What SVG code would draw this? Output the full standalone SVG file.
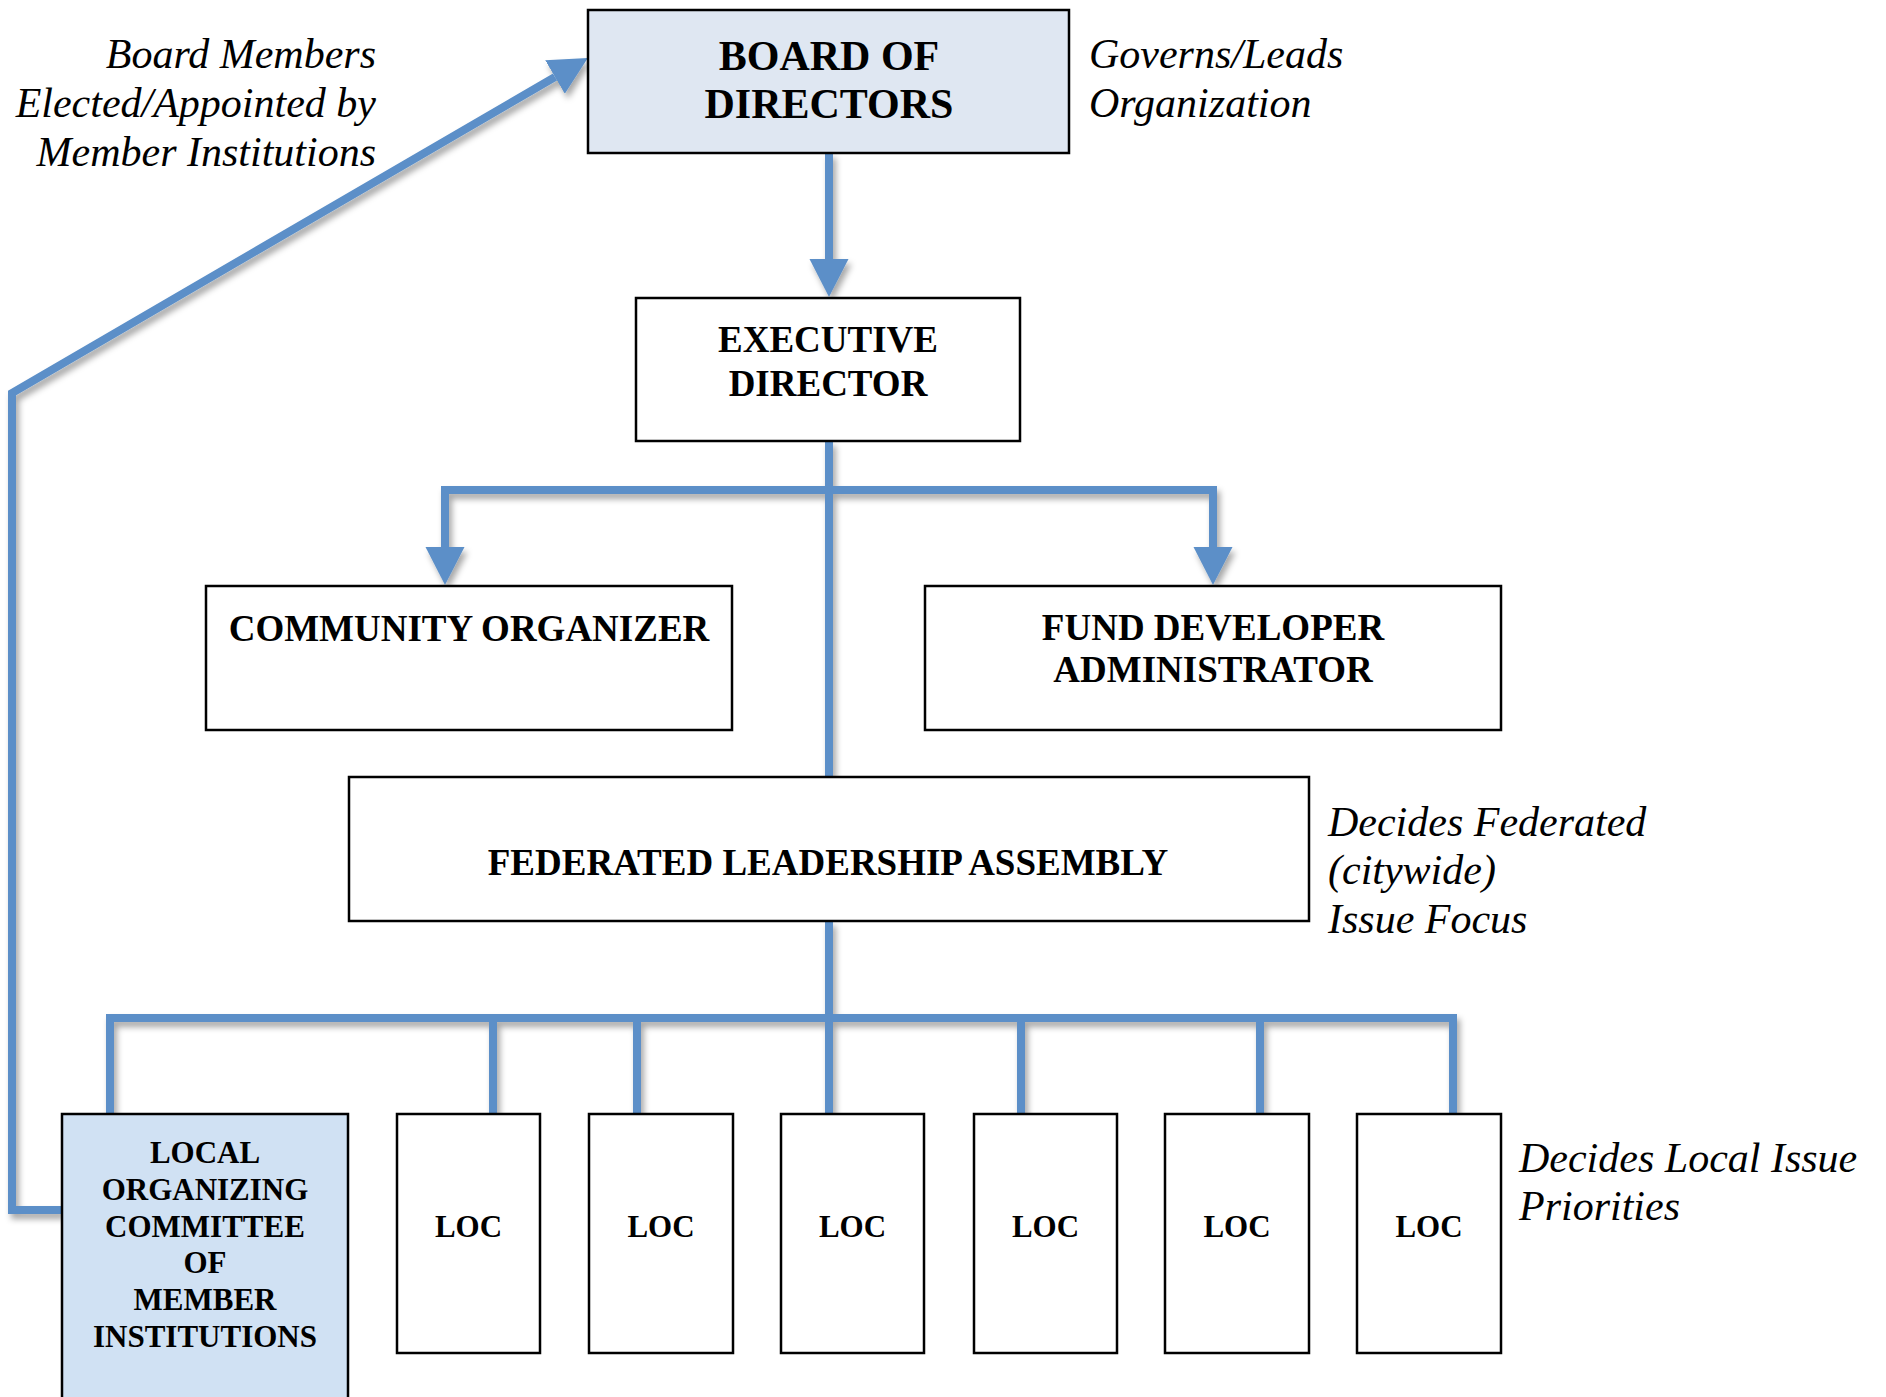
<svg xmlns="http://www.w3.org/2000/svg" width="1886" height="1397" viewBox="0 0 1886 1397">
<style>
.box{stroke:#000;stroke-width:2.5;fill:#fff}
.board{fill:#DFE7F2}
.local{fill:#D0E1F3}
.b{font-family:"Liberation Serif","Times New Roman",serif;font-weight:bold;fill:#000;text-anchor:middle}
.i{font-family:"Liberation Serif","Times New Roman",serif;font-style:italic;fill:#000;font-size:42px}
.c{fill:none;stroke:#5B8FC8;stroke-width:8;stroke-linejoin:miter}
</style>
<defs>
<marker id="ah" markerUnits="userSpaceOnUse" markerWidth="40" markerHeight="42" viewBox="0 -21 40 42" refX="0" refY="0" orient="auto">
<path d="M0,-19.5 L38,0 L0,19.5 Z" fill="#5B8FC8"/>
</marker>
<filter id="sh" x="-10%" y="-10%" width="120%" height="120%">
<feDropShadow dx="3" dy="5" stdDeviation="3" flood-color="#000" flood-opacity="0.35"/>
</filter>
</defs>
<g id="connectors" filter="url(#sh)">
<path class="c" d="M829 153 V259" marker-end="url(#ah)"/>
<path class="c" d="M829 441 V777"/>
<path class="c" d="M445 547 V490 H1213 V547" marker-end="url(#ah)"/>
<path class="c" d="M445 490 V547" marker-end="url(#ah)"/>
<path class="c" d="M829 921 V1114"/>
<path class="c" d="M110 1114 V1018 H1453 V1114"/>
<path class="c" d="M493 1018 V1114"/>
<path class="c" d="M637 1018 V1114"/>
<path class="c" d="M1021 1018 V1114"/>
<path class="c" d="M1260 1018 V1114"/>
<path class="c" d="M62 1210 H12 V393 L555 77" marker-end="url(#ah)"/>
</g>
<g id="board">
<rect class="box board" x="588" y="10" width="481" height="143"/>
<text class="b" font-size="42" x="829" y="70">BOARD OF</text>
<text class="b" font-size="42" x="829" y="118">DIRECTORS</text>
</g>
<g id="executive">
<rect class="box" x="636" y="298" width="384" height="143"/>
<text class="b" font-size="37" x="828" y="352">EXECUTIVE</text>
<text class="b" font-size="37" x="828" y="396">DIRECTOR</text>
</g>
<g id="community">
<rect class="box" x="206" y="586" width="526" height="144"/>
<text class="b" font-size="37" x="469" y="641">COMMUNITY ORGANIZER</text>
</g>
<g id="fund">
<rect class="box" x="925" y="586" width="576" height="144"/>
<text class="b" font-size="37" x="1213" y="640">FUND DEVELOPER</text>
<text class="b" font-size="37" x="1213" y="682">ADMINISTRATOR</text>
</g>
<g id="federated">
<rect class="box" x="349" y="777" width="960" height="144"/>
<text class="b" font-size="37" x="828" y="875">FEDERATED LEADERSHIP ASSEMBLY</text>
</g>
<g id="local">
<rect class="box local" x="62" y="1114" width="286" height="300"/>
<text class="b" font-size="31" x="205" y="1163">LOCAL</text>
<text class="b" font-size="31" x="205" y="1200">ORGANIZING</text>
<text class="b" font-size="31" x="205" y="1237">COMMITTEE</text>
<text class="b" font-size="31" x="205" y="1273">OF</text>
<text class="b" font-size="31" x="205" y="1310">MEMBER</text>
<text class="b" font-size="31" x="205" y="1347">INSTITUTIONS</text>
</g>
<g id="loc1"><rect class="box" x="397" y="1114" width="143" height="239"/><text class="b" font-size="31" x="468.5" y="1237">LOC</text></g>
<g id="loc2"><rect class="box" x="589" y="1114" width="144" height="239"/><text class="b" font-size="31" x="661" y="1237">LOC</text></g>
<g id="loc3"><rect class="box" x="781" y="1114" width="143" height="239"/><text class="b" font-size="31" x="852.5" y="1237">LOC</text></g>
<g id="loc4"><rect class="box" x="974" y="1114" width="143" height="239"/><text class="b" font-size="31" x="1045.5" y="1237">LOC</text></g>
<g id="loc5"><rect class="box" x="1165" y="1114" width="144" height="239"/><text class="b" font-size="31" x="1237" y="1237">LOC</text></g>
<g id="loc6"><rect class="box" x="1357" y="1114" width="144" height="239"/><text class="b" font-size="31" x="1429" y="1237">LOC</text></g>
<g id="notes">
<text class="i" x="376" y="68" text-anchor="end">Board Members</text>
<text class="i" x="376" y="117" text-anchor="end">Elected/Appointed by</text>
<text class="i" x="376" y="166" text-anchor="end">Member Institutions</text>
<text class="i" x="1089" y="68">Governs/Leads</text>
<text class="i" x="1089" y="117">Organization</text>
<text class="i" x="1328" y="836">Decides Federated</text>
<text class="i" x="1328" y="884">(citywide)</text>
<text class="i" x="1328" y="933">Issue Focus</text>
<text class="i" x="1519" y="1172">Decides Local Issue</text>
<text class="i" x="1519" y="1220">Priorities</text>
</g>
</svg>
